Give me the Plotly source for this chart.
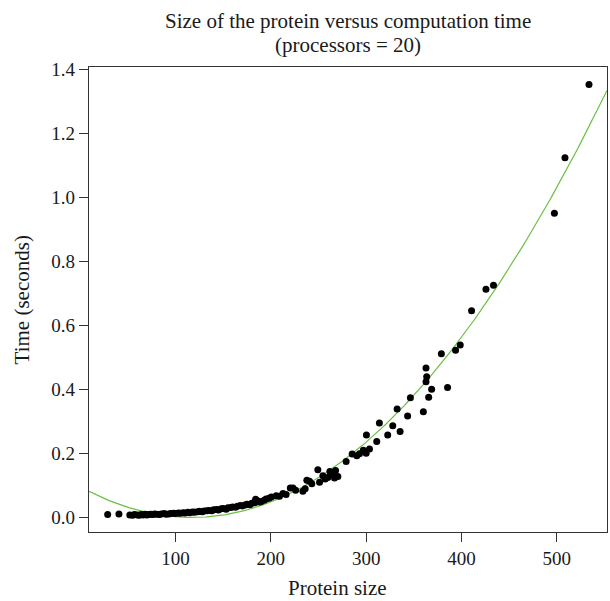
import numpy as np
import plotly.graph_objects as go

# Protein size (x) and computation time in seconds (y)
sizes_low = [28.8, 40.6]
times_low = [0.009, 0.011]

sizes_band = [52, 55, 57, 60, 62, 64, 66, 68, 70, 72, 74, 76, 78, 80, 83, 85, 88, 90,
              93, 95, 98, 100, 103, 105, 108, 110, 113, 115, 118, 120, 123, 125, 128,
              130, 133, 135, 138, 140, 143, 145, 148, 150, 153, 155, 158, 160, 163, 165,
              168, 170, 173, 175, 178, 180, 183, 184, 186, 188, 190, 193, 195, 198]
times_band = [0.008, 0.007, 0.009, 0.008, 0.007, 0.009, 0.008, 0.010, 0.008, 0.009,
              0.010, 0.009, 0.011, 0.010, 0.009, 0.011, 0.012, 0.010, 0.011, 0.012,
              0.013, 0.012, 0.014, 0.013, 0.015, 0.014, 0.016, 0.015, 0.017, 0.016,
              0.018, 0.019, 0.018, 0.020, 0.021, 0.022, 0.021, 0.024, 0.025, 0.023,
              0.027, 0.028, 0.026, 0.030, 0.031, 0.033, 0.032, 0.035, 0.037, 0.036,
              0.039, 0.041, 0.040, 0.044, 0.046, 0.057, 0.052, 0.048, 0.050, 0.054,
              0.058, 0.060]

sizes_high = [200.5, 205.7, 209, 212.7, 216, 220.4, 223.2, 226, 233.6, 236, 237.8,
              240.6, 243, 249.3, 251.1, 254.6, 257, 259.8, 261.9, 265, 266.8, 267.9,
              270.3, 279, 285.3, 290.2, 293, 297, 300, 303.5, 300.3, 311.1, 313.9,
              322.6, 327.9, 335.6, 332.5, 343.5, 346.4, 360, 362.8, 363.5, 362.8,
              365.6, 368.7, 378.9, 385.4, 393.8, 398.7, 410.6, 425.7, 433.6, 497.5,
              508.6, 533.8]
times_high = [0.064, 0.068, 0.066, 0.075, 0.072, 0.092, 0.092, 0.085, 0.082, 0.090,
              0.116, 0.113, 0.105, 0.149, 0.110, 0.130, 0.120, 0.125, 0.144, 0.134,
              0.123, 0.147, 0.128, 0.175, 0.198, 0.193, 0.199, 0.210, 0.201, 0.214,
              0.258, 0.2375, 0.295, 0.258, 0.2865, 0.269, 0.339, 0.317, 0.374, 0.330,
              0.4675, 0.440, 0.424, 0.376, 0.401, 0.512, 0.406, 0.523, 0.539, 0.646,
              0.713, 0.726, 0.951, 1.124, 1.353]

# Quadratic fit coefficients (highest power first)
fit_coef = [7.03e-6, -0.001645, 0.0962]

x_ticks = [100, 200, 300, 400, 500]
y_ticks = [0.0, 0.2, 0.4, 0.6, 0.8, 1.0, 1.2, 1.4]
y_tick_text = ["0.0", "0.2", "0.4", "0.6", "0.8", "1.0", "1.2", "1.4"]

x_range = [9.2, 552.7]
y_range = [-0.0455, 1.408]

sizes = sizes_low + sizes_band + sizes_high
times = times_low + times_band + times_high

FONT = "Liberation Serif"

fit_x = np.linspace(x_range[0], x_range[1], 300)
fit_y = np.polyval(fit_coef, fit_x)

fig = go.Figure()
fig.add_trace(go.Scatter(x=fit_x, y=fit_y, mode="lines",
                         line=dict(color="#6cbf45", width=1.2),
                         hoverinfo="skip", showlegend=False))
fig.add_trace(go.Scatter(x=sizes, y=times, mode="markers",
                         marker=dict(color="black", size=7),
                         showlegend=False))

axis_common = dict(showline=True, mirror=True, linecolor="#333333", linewidth=1.2,
                   ticks="outside", ticklen=9, tickwidth=1.2, tickcolor="#333333",
                   showgrid=False, zeroline=False, automargin=False,
                   tickfont=dict(family=FONT, size=19, color="#1a1a1a"))

fig.update_xaxes(range=x_range, tickvals=x_ticks, **axis_common)
fig.update_yaxes(range=y_range, tickvals=y_ticks, ticktext=y_tick_text, **axis_common)

W, H = 610, 601
pl, pr, pt, pb = 88.7, 610 - 607.5, 66.7, 601 - 532.3
ph = H - pt - pb
pw = W - pl - pr

def py(p):
    return (H - pb - p) / ph

def px_(p):
    return (p - pl) / pw

annots = [
    dict(text="Size of the protein versus computation time", x=px_(348.5), y=py(21), size=21),
    dict(text="(processors = 20)", x=px_(348.5), y=py(45), size=21),
    dict(text="Protein size", x=px_(338), y=py(588), size=21),
    dict(text="Time (seconds)", x=px_(22), y=py(300), textangle=-90, size=21),
]
for a in annots:
    size = a.pop("size")
    fig.add_annotation(xref="paper", yref="paper", showarrow=False,
                       xanchor="center", yanchor="middle",
                       font=dict(family=FONT, size=size, color="#1a1a1a"), **a)

fig.update_layout(width=W, height=H, margin=dict(l=pl, r=pr, t=pt, b=pb, autoexpand=False),
                  plot_bgcolor="white", paper_bgcolor="white",
                  font=dict(family=FONT))

fig.write_html("out.html", config={"displayModeBar": False},
               post_script="document.body.style.margin='0';document.body.style.overflow='hidden';")
